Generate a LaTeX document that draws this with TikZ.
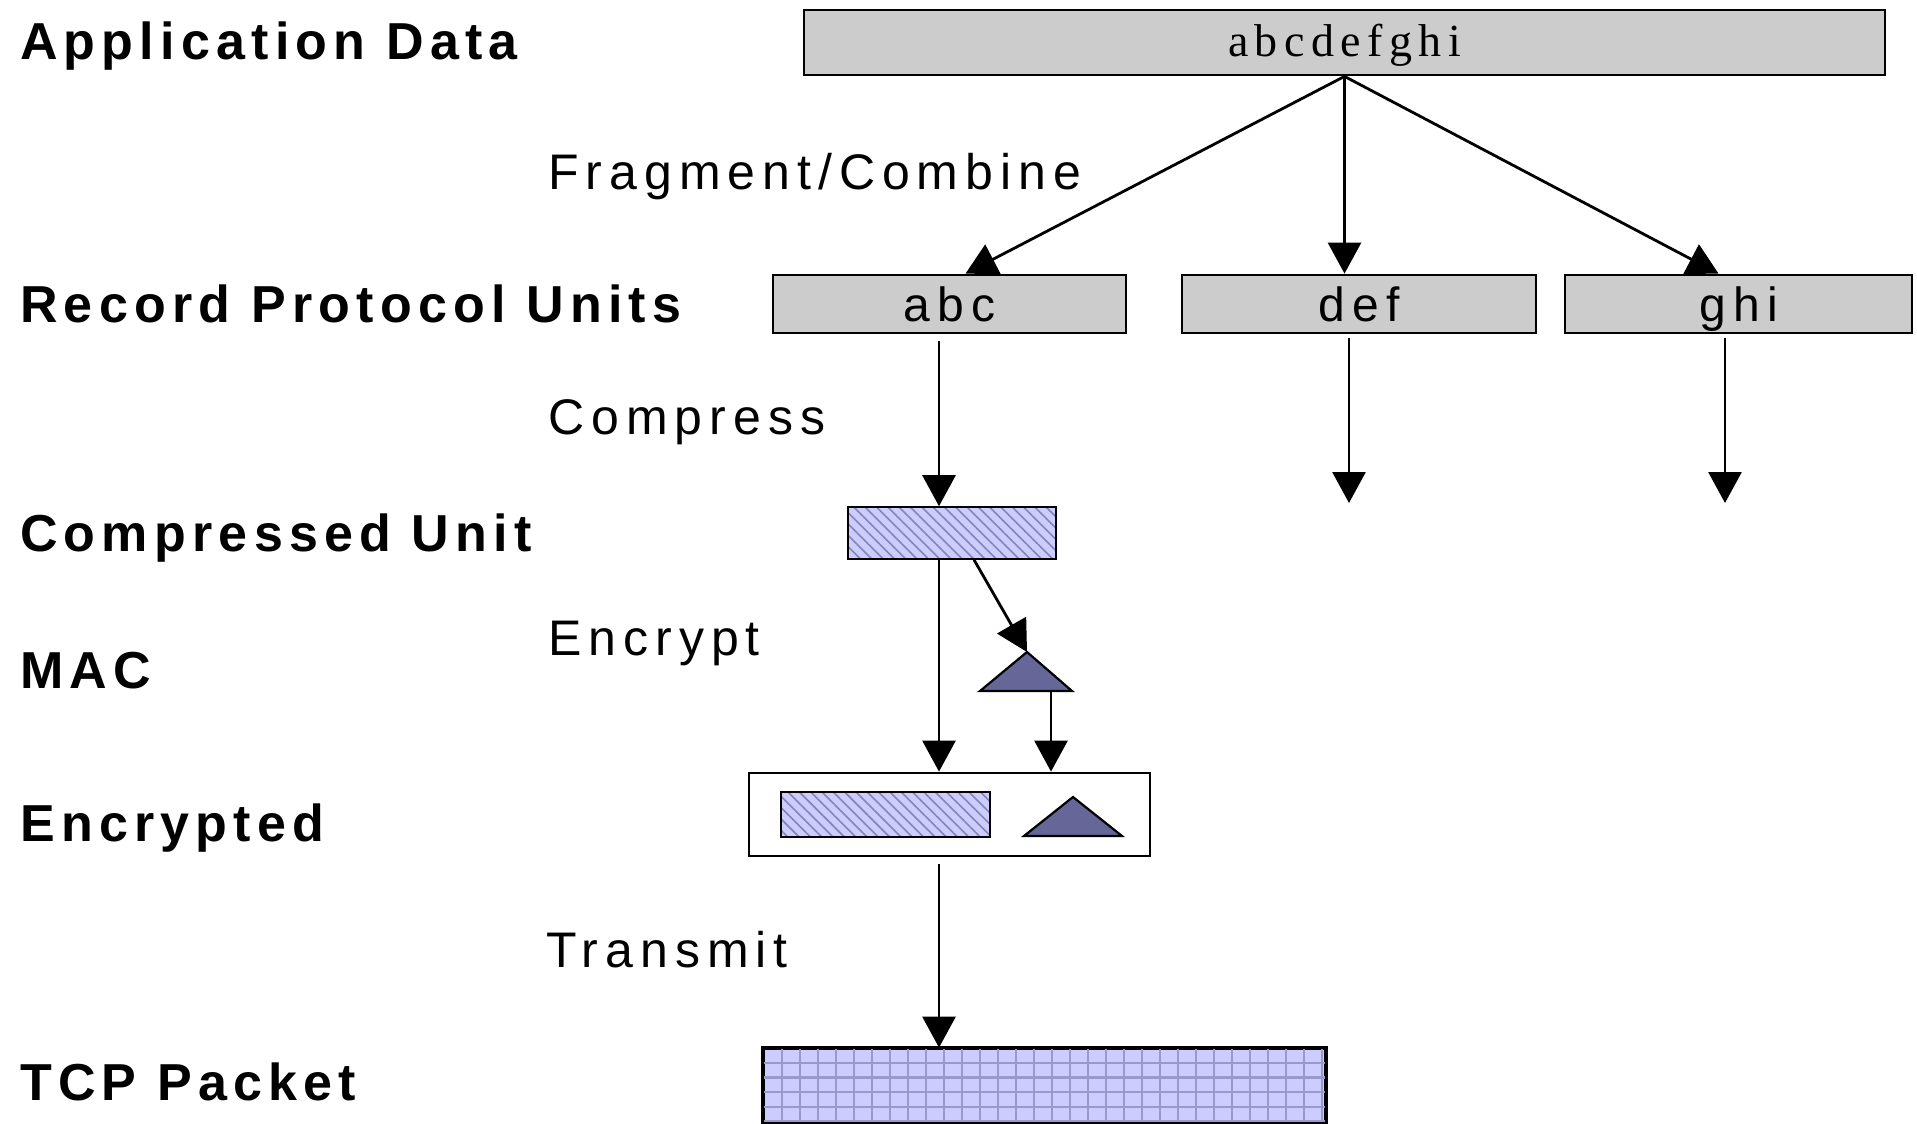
\documentclass[tikz,border=0pt]{standalone}
\usepackage{fontspec}
\setmainfont{Liberation Sans}
\usetikzlibrary{arrows.meta,patterns.meta}
\newfontfamily\lblbold[LetterSpace=12]{Liberation Sans}
\newfontfamily\opfont[LetterSpace=14]{Liberation Sans}
\newfontfamily\boxfont[LetterSpace=15]{Liberation Sans}
\newfontfamily\serfont[LetterSpace=14]{Liberation Serif}
\definecolor{boxgray}{HTML}{CCCCCC}
\definecolor{lav}{HTML}{CCCCFF}
\definecolor{hatchc}{HTML}{8585B5}
\definecolor{gridc}{HTML}{9999CC}
\definecolor{macc}{HTML}{666699}
\tikzset{
  lbl/.style={anchor=west, inner sep=0pt, font=\lblbold\bfseries\fontsize{52}{60}\selectfont},
  oplabel/.style={anchor=west, inner sep=0pt, font=\opfont\fontsize{50}{58}\selectfont},
  graybox/.style={draw, line width=2.8pt, fill=boxgray, inner sep=0pt, text height=35pt, text depth=0pt, font=\boxfont\fontsize{48}{54}\selectfont},
  hatchbox/.style={draw, line width=2.8pt, preaction={fill=lav}, pattern={Lines[angle=-45,distance=8pt,line width=1.6pt]}, pattern color=hatchc, inner sep=0pt},
  plainbox/.style={draw, line width=2.8pt, fill=white, inner sep=0pt},
  arr/.style={line width=2.8pt, -{Triangle[width=33pt,length=31pt]}},
  macshape/.style={draw, line width=2.2pt, fill=macc},
}
\begin{document}
\begin{tikzpicture}[x=1pt,y=-1pt]
\useasboundingbox (0,0) rectangle (1917,1124);
\fill[white] (0,0) rectangle (1917,1124);

% left labels
\node[lbl] (lApp) at (20,46) {Application Data};
\node[lbl] (lRec) at (20,304) {Record Protocol Units};
\node[lbl] (lComp) at (20,538) {Compressed Unit};
\node[lbl] (lMac) at (20,671) {MAC};
\node[lbl] (lEnc) at (20,828) {Encrypted};
\node[lbl] (lTcp) at (20,1082) {TCP Packet};

% operation labels
\node[oplabel] (oFrag) at (548,177) {Fragment/Combine};
\node[oplabel] (oComp) at (548,422) {Compress};
\node[oplabel] (oEnc) at (548,643) {Encrypt};
\node[oplabel] (oTx) at (546,950) {Transmit};

% boxes
\node[graybox, minimum width=1081pt, minimum height=65pt, text height=33pt, text depth=4pt, font=\serfont\fontsize{46}{52}\selectfont] (app) at (1344.5,42.5) {abcdefghi};
\node[graybox, minimum width=353pt, minimum height=58pt] (abc) at (949.5,304) {abc};
\node[graybox, minimum width=354pt, minimum height=58pt] (def) at (1359,304) {def};
\node[graybox, minimum width=347pt, minimum height=58pt] (ghi) at (1738.5,304) {ghi};

\node[hatchbox, minimum width=208pt, minimum height=52pt] (comp) at (952,533) {};

% MAC triangle
\coordinate (mactop) at (1027,652);
\coordinate (macbase) at (1051,691);
\draw[macshape] (980,691) -- (mactop) -- (1072,691) -- cycle;

% encrypted
\node[plainbox, minimum width=401pt, minimum height=83pt] (enc) at (949.5,814.5) {};
\node[hatchbox, minimum width=209pt, minimum height=45pt] (encdata) at (885.5,814.5) {};
\draw[macshape] (1024,836) -- (1073,797) -- (1122,836) -- cycle;

% TCP packet
\node[draw, line width=2.8pt, fill=lav, minimum width=561pt, minimum height=73pt, inner sep=0pt] (tcp) at (1044.5,1085.5) {};
\begin{scope}
  \clip (tcp.south west) rectangle (tcp.north east);
  \foreach \gx in {0,...,31} {
    \draw[gridc, line width=2.5pt] (782+\gx*18,1040) -- (782+\gx*18,1130);
  }
  \foreach \gy in {0,...,5} {
    \draw[gridc, line width=2.5pt] (760,1063+\gy*14.6) -- (1330,1063+\gy*14.6);
  }
\end{scope}
\draw[line width=2.8pt] (tcp.south west) rectangle (tcp.north east);

% connectors
\coordinate (colx) at (939,0);
\coordinate (defend) at (1349,503);
\coordinate (ghiend) at (1725,503);

\draw[arr] (app.south) -- ([xshift=16pt]abc.north);
\draw[arr] (app.south) -- (def.north -| app.south);
\draw[arr] (app.south) -- ([xshift=-20pt]ghi.north);

\draw[arr, shorten <=7pt] (abc.south -| colx) -- (comp.north -| colx);
\draw[arr, shorten <=4pt] (def.south -| defend) -- (defend);
\draw[arr, shorten <=4pt] (ghi.south -| ghiend) -- (ghiend);

\draw[arr] (comp.south -| colx) -- (enc.north -| colx);
\draw[arr] ([xshift=22pt]comp.south) -- (mactop);
\draw[arr] (macbase) -- (enc.north -| macbase);

\draw[arr, shorten <=7pt] (enc.south -| colx) -- (tcp.north -| colx);
\end{tikzpicture}
\end{document}
